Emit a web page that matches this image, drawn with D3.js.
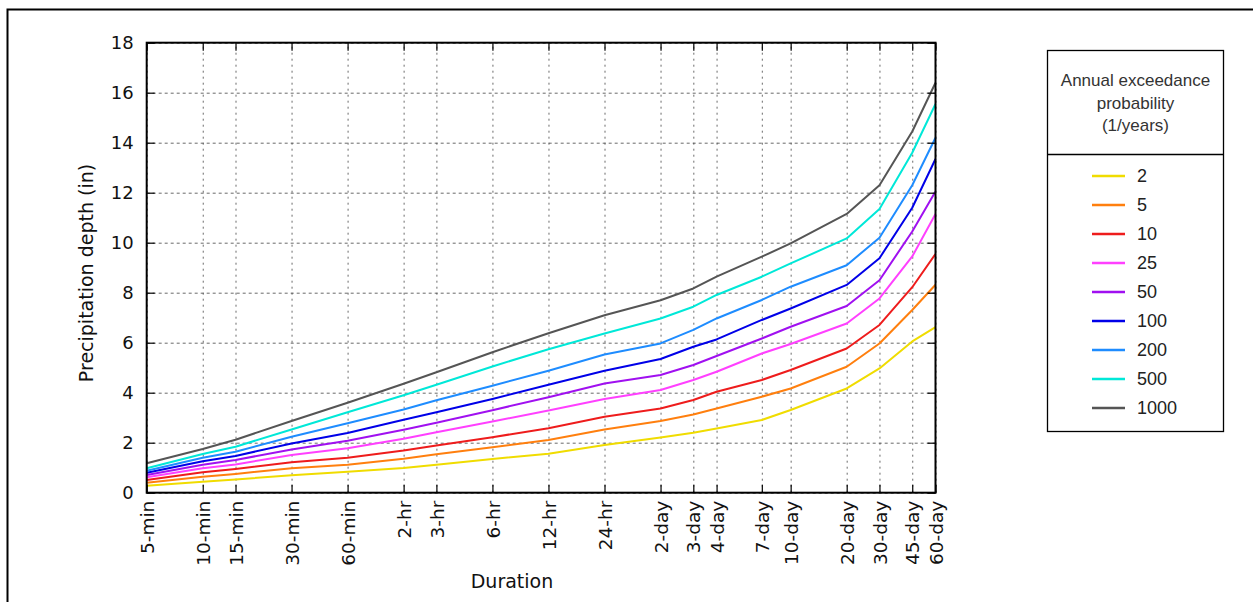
<!DOCTYPE html>
<html>
<head>
<meta charset="utf-8">
<script src="https://cdn.jsdelivr.net/npm/d3@7"></script>
<style>
  html, body { margin: 0; padding: 0; background: #fff; }
  svg { display: block; }
</style>
</head>
<body>
<svg id="chart" width="1253" height="602"></svg>
<script>
// ---- data ----
const durationsMin = [5, 10, 15, 30, 60, 120, 180, 360, 720, 1440, 2880, 4320, 5760, 10080, 14400, 28800, 43200, 64800, 86400];
const durationLabels = ["5-min", "10-min", "15-min", "30-min", "60-min", "2-hr", "3-hr", "6-hr", "12-hr", "24-hr",
  "2-day", "3-day", "4-day", "7-day", "10-day", "20-day", "30-day", "45-day", "60-day"];
const yTickValues = [0, 2, 4, 6, 8, 10, 12, 14, 16, 18];

const seriesNames = ["2", "5", "10", "25", "50", "100", "200", "500", "1000"];
const seriesColors = ["#f0dc00", "#ff7f0e", "#ee1c1c", "#ff40ff", "#a010f0", "#0000e8", "#1e8cff", "#00e8d8", "#555555"];

const aep2    = [0.28, 0.44, 0.53, 0.70, 0.84, 0.99, 1.12, 1.35, 1.56, 1.91, 2.21, 2.40, 2.57, 2.91, 3.31, 4.17, 4.97, 6.05, 6.62];
const aep5    = [0.40, 0.64, 0.75, 0.98, 1.12, 1.36, 1.54, 1.82, 2.11, 2.53, 2.87, 3.13, 3.37, 3.84, 4.17, 5.04, 5.97, 7.31, 8.32];
const aep10   = [0.51, 0.82, 0.95, 1.22, 1.40, 1.69, 1.89, 2.22, 2.58, 3.04, 3.37, 3.71, 4.04, 4.51, 4.91, 5.77, 6.71, 8.22, 9.55];
const aep25   = [0.62, 0.98, 1.13, 1.51, 1.78, 2.16, 2.42, 2.85, 3.29, 3.75, 4.11, 4.51, 4.84, 5.57, 5.95, 6.77, 7.77, 9.45, 11.15];
const aep50   = [0.71, 1.12, 1.31, 1.73, 2.08, 2.52, 2.80, 3.30, 3.82, 4.37, 4.71, 5.11, 5.47, 6.17, 6.64, 7.47, 8.50, 10.45, 12.05];
const aep100  = [0.80, 1.26, 1.47, 1.97, 2.39, 2.92, 3.22, 3.75, 4.32, 4.88, 5.35, 5.84, 6.13, 6.91, 7.37, 8.31, 9.38, 11.40, 13.35];
const aep200  = [0.88, 1.40, 1.64, 2.24, 2.78, 3.33, 3.70, 4.28, 4.88, 5.53, 5.97, 6.51, 6.97, 7.71, 8.24, 9.10, 10.20, 12.30, 14.20];
const aep500  = [0.98, 1.55, 1.84, 2.53, 3.22, 3.90, 4.32, 5.05, 5.74, 6.37, 6.97, 7.44, 7.91, 8.64, 9.17, 10.17, 11.35, 13.60, 15.55];
const aep1000 = [1.18, 1.75, 2.12, 2.87, 3.60, 4.36, 4.82, 5.62, 6.38, 7.10, 7.70, 8.17, 8.64, 9.44, 9.97, 11.15, 12.30, 14.45, 16.40];

const seriesValues = [aep2, aep5, aep10, aep25, aep50, aep100, aep200, aep500, aep1000];

// ---- layout ----
const svg = d3.select("#chart");
const plot = { left: 146.7, right: 935.5, top: 42.7, bottom: 492.7 };
const x = d3.scaleLog().domain([durationsMin[0], durationsMin[durationsMin.length - 1]]).range([plot.left, plot.right]);
const y = d3.scaleLinear().domain([0, 18]).range([plot.bottom, plot.top]);
const font = "'DejaVu Sans', sans-serif";

// outer frame
svg.append("rect").attr("x", 7.5).attr("y", 9.5).attr("width", 1260).attr("height", 700)
  .attr("fill", "none").attr("stroke", "#000").attr("stroke-width", 2);

// grid
const gridColor = "#444";
svg.append("g").attr("transform", `translate(0,${plot.bottom})`)
  .call(d3.axisBottom(x).tickValues(durationsMin).tickSize(-(plot.bottom - plot.top)).tickFormat(""))
  .call(g => g.select(".domain").remove())
  .call(g => g.selectAll("line").attr("stroke", gridColor).attr("stroke-width", 0.8).attr("stroke-dasharray", "2,4"));
svg.append("g").attr("transform", `translate(${plot.left},0)`)
  .call(d3.axisLeft(y).tickValues(yTickValues).tickSize(-(plot.right - plot.left)).tickFormat(""))
  .call(g => g.select(".domain").remove())
  .call(g => g.selectAll("line").attr("stroke", gridColor).attr("stroke-width", 0.8).attr("stroke-dasharray", "3,3"));

// series lines
const line = d3.line().x((d, i) => x(durationsMin[i])).y(d => y(d));
svg.append("g").selectAll("path").data(seriesValues).join("path")
  .attr("d", d => line(d))
  .attr("fill", "none")
  .attr("stroke", (d, i) => seriesColors[i])
  .attr("stroke-width", 2)
  .attr("stroke-linejoin", "round");

// axes (inward ticks)
const tickLen = 8;
const xAxisB = svg.append("g").attr("transform", `translate(0,${plot.bottom})`)
  .call(d3.axisBottom(x).tickValues(durationsMin).tickSizeInner(-tickLen).tickSizeOuter(0)
    .tickFormat((d, i) => durationLabels[i]));
xAxisB.select(".domain").remove();
xAxisB.selectAll("line").attr("stroke", "#000").attr("stroke-width", 1.2);
xAxisB.selectAll("text")
  .attr("transform", "rotate(-90)")
  .attr("x", -8).attr("y", 0).attr("dy", "0.36em")
  .attr("text-anchor", "end")
  .attr("font-family", font).attr("font-size", 18.5).attr("fill", "#111");

const xAxisT = svg.append("g").attr("transform", `translate(0,${plot.top})`)
  .call(d3.axisTop(x).tickValues(durationsMin).tickSizeInner(-tickLen).tickSizeOuter(0).tickFormat(""));
xAxisT.select(".domain").remove();
xAxisT.selectAll("line").attr("stroke", "#000").attr("stroke-width", 1.2);

const yAxisL = svg.append("g").attr("transform", `translate(${plot.left},0)`)
  .call(d3.axisLeft(y).tickValues(yTickValues).tickSizeInner(-tickLen).tickSizeOuter(0).tickPadding(13));
yAxisL.select(".domain").remove();
yAxisL.selectAll("line").attr("stroke", "#000").attr("stroke-width", 1.2);
yAxisL.selectAll("text").attr("font-family", font).attr("font-size", 18).attr("fill", "#111");

const yAxisR = svg.append("g").attr("transform", `translate(${plot.right},0)`)
  .call(d3.axisRight(y).tickValues(yTickValues).tickSizeInner(-tickLen).tickSizeOuter(0).tickFormat(""));
yAxisR.select(".domain").remove();
yAxisR.selectAll("line").attr("stroke", "#000").attr("stroke-width", 1.2);

// plot frame
svg.append("rect").attr("x", plot.left).attr("y", plot.top)
  .attr("width", plot.right - plot.left).attr("height", plot.bottom - plot.top)
  .attr("fill", "none").attr("stroke", "#000").attr("stroke-width", 2);

// axis titles
svg.append("text").attr("x", 512).attr("y", 588)
  .attr("text-anchor", "middle").attr("font-family", font).attr("font-size", 19).attr("fill", "#111")
  .text("Duration");
svg.append("text").attr("transform", "translate(93,273) rotate(-90)")
  .attr("text-anchor", "middle").attr("font-family", font).attr("font-size", 19).attr("fill", "#111")
  .text("Precipitation depth (in)");

// legend
const lg = svg.append("g");
const lgFont = "'Liberation Sans', Arial, sans-serif";
lg.append("rect").attr("x", 1047.5).attr("y", 50.5).attr("width", 176).attr("height", 381)
  .attr("fill", "#fff").attr("stroke", "#000").attr("stroke-width", 1.3);
lg.append("line").attr("x1", 1047.5).attr("x2", 1223.5).attr("y1", 154.5).attr("y2", 154.5)
  .attr("stroke", "#000").attr("stroke-width", 1.3);
const titleLines = ["Annual exceedance", "probability", "(1/years)"];
lg.selectAll("text.title").data(titleLines).join("text").attr("class", "title")
  .attr("x", 1135.5).attr("y", (d, i) => 86 + i * 22.5)
  .attr("text-anchor", "middle").attr("font-family", lgFont).attr("font-size", 17).attr("fill", "#333")
  .text(d => d);
const entries = lg.selectAll("g.entry").data(seriesNames).join("g").attr("class", "entry")
  .attr("transform", (d, i) => `translate(0,${176 + i * 29})`);
entries.append("line").attr("x1", 1092).attr("x2", 1125).attr("y1", 0).attr("y2", 0)
  .attr("stroke", (d, i) => seriesColors[i]).attr("stroke-width", 2.4);
entries.append("text").attr("x", 1137).attr("y", 0).attr("dy", "0.36em")
  .attr("font-family", lgFont).attr("font-size", 18).attr("fill", "#222")
  .text(d => d);
</script>
</body>
</html>
